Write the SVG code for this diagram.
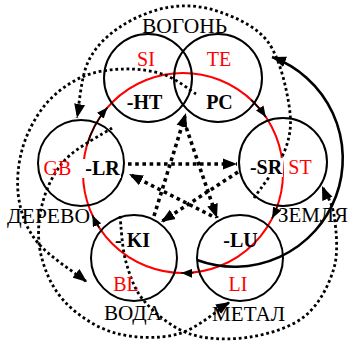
<svg xmlns="http://www.w3.org/2000/svg" width="349" height="342" viewBox="0 0 349 342">
<style>
.node{fill:none;stroke:#000;stroke-width:2}
.red{font-family:"Liberation Serif",serif;font-size:20px;fill:#f00;text-anchor:middle}
.fn{font-family:"Liberation Serif",serif;font-size:20px;font-weight:bold;fill:#000;text-anchor:middle}
.el{font-family:"Liberation Serif",serif;font-size:20px;fill:#000;text-anchor:middle}
.cyc{fill:none;stroke:#f00;stroke-width:2}
.cyca{fill:none;stroke:#000;stroke-width:1.6;marker-end:url(#sm)}
.thick{fill:none;stroke:#000;stroke-width:3.6;stroke-dasharray:3.6 3.6;marker-end:url(#big)}
.thin{fill:none;stroke:#000;stroke-width:2.8;stroke-dasharray:2.8 2.8;marker-end:url(#big)}
.solid{fill:none;stroke:#000;stroke-width:2.6;marker-end:url(#big)}
.bg{fill:#fff}
</style>
<defs>
<marker id="big" markerUnits="userSpaceOnUse" markerWidth="14" markerHeight="12" refX="14" refY="5.5" orient="auto" viewBox="0 0 14 11">
<path d="M0,0 L14,5.5 L0,11 z" fill="#000" stroke="none"/>
</marker>
<marker id="sm" markerUnits="userSpaceOnUse" markerWidth="11" markerHeight="9" refX="11" refY="4.5" orient="auto" viewBox="0 0 11 9">
<path d="M0,0 L11,4.5 L0,9 z" fill="#000" stroke="none"/>
</marker>
</defs>
<rect width="349" height="342" fill="#fff"/>

<g id="connectors">
<circle class="cyc" cx="183" cy="173" r="100"/>
<path class="cyca" d="M86.9,145.4 A100,100 0 0 1 107.5,107.4"/>
<path class="cyca" d="M251.2,99.9 A100,100 0 0 1 265.9,117.1"/>
<path class="cyca" d="M277,207.2 A100,100 0 0 1 272.1,218.4"/>
<path class="cyca" d="M193.5,272.5 A100,100 0 0 1 181.3,273"/>
<path class="cyca" d="M99.1,227.5 A100,100 0 0 1 92.4,215.3"/>

<path class="thick" d="M128,164 L237,164"/>
<path class="thick" d="M154,216 L186,113"/>
<path class="thick" d="M184,121 L217,218"/>
<path class="thick" d="M212,216 L129,174"/>
<path class="thick" d="M238,172 L161,222"/>

<path class="solid" d="M197,260 A108,108 0 1 0 272,57"/>

<path class="thin" d="M254,198 C259.2,190 279.2,165.5 285,150 C290.8,134.5 291.8,123 289,105 C286.2,87 279.5,57.5 268,42 C256.5,26.5 236.3,17.8 220,12 C203.7,6.2 186.7,4.5 170,7 C153.3,9.5 133.7,17.8 120,27 C106.3,36.2 95.2,46.8 88,62 C80.8,77.2 78.8,108.7 77,118"/>
<path class="thin" d="M196,94 C190.8,90.8 176.8,79.2 165,75 C153.2,70.8 138.8,68.7 125,69 C111.2,69.3 95.3,71 82,77 C68.7,83 55,92.8 45,105 C35,117.2 26.3,134.2 22,150 C17.7,165.8 16.3,184.5 19,200 C21.7,215.5 26.7,229.3 38,243 C49.3,256.7 78.8,275.5 87,282"/>
<path class="thin" d="M112,128 C104.2,133.3 76.7,147.2 65,160 C53.3,172.8 46,189.2 42,205 C38,220.8 37.2,238.8 41,255 C44.8,271.2 52.7,289 65,302 C77.3,315 96.2,327.7 115,333 C133.8,338.3 158.8,339.2 178,334 C197.2,328.8 221.3,307.3 230,302"/>
<path class="thin" d="M120,216 C121,223.7 121.8,247.7 126,262 C130.2,276.3 134.3,290 145,302 C155.7,314 172.5,328.2 190,334 C207.5,339.8 230.8,340 250,337 C269.2,334 291,327.5 305,316 C319,304.5 329.2,284.8 334,268 C338.8,251.2 336,228.7 334,215 C332,201.3 324,190.8 322,186"/>
</g>

<g id="fire-label">
<text class="el" x="184.5" y="33" textLength="85" lengthAdjust="spacingAndGlyphs">ВОГОНЬ</text>
</g>
<g id="fire-si">
<circle class="node" cx="148" cy="78" r="44"/>
<text class="red" x="146" y="66">SI</text>
<text class="fn" x="144.5" y="109">-HT</text>
</g>
<g id="fire-te">
<circle class="node" cx="218" cy="78" r="44"/>
<text class="red" x="219" y="66">TE</text>
<text class="fn" x="219.5" y="109">PC</text>
</g>
<g id="wood">
<circle class="node" cx="81" cy="163" r="43"/>
<rect class="bg" x="82" y="159" width="39" height="19"/>
<text class="red" x="57.5" y="175">GB</text>
<text class="fn" x="102.5" y="175">-LR</text>
<text class="el" x="48.5" y="223" textLength="83" lengthAdjust="spacingAndGlyphs">ДЕРЕВО</text>
</g>
<g id="earth">
<circle class="node" cx="283" cy="162" r="44"/>
<rect class="bg" x="249" y="158" width="34" height="19"/>
<text class="fn" x="266" y="174">-SR</text>
<text class="red" x="300" y="174">ST</text>
<text class="el" x="313" y="222" textLength="70" lengthAdjust="spacingAndGlyphs">ЗЕМЛЯ</text>
</g>
<g id="water">
<circle class="node" cx="134" cy="258" r="43"/>
<text class="fn" x="115" y="247" style="text-anchor:start">- KI</text>
<text class="red" x="126" y="291">BL</text>
<text class="el" x="133" y="320" textLength="58" lengthAdjust="spacingAndGlyphs">ВОДА</text>
</g>
<g id="metal">
<circle class="node" cx="240" cy="258" r="43"/>
<text class="fn" x="240.5" y="247">-LU</text>
<text class="red" x="238" y="291">LI</text>
<text class="el" x="248.5" y="321" textLength="73" lengthAdjust="spacingAndGlyphs">МЕТАЛ</text>
</g>
</svg>
